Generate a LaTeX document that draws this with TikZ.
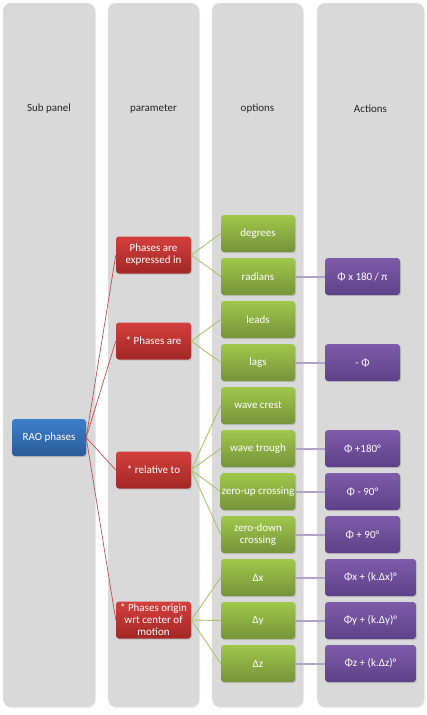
\documentclass[tikz,border=0pt]{standalone}
\usepackage{fontspec}
\setmainfont{Carlito}
\usepackage{xcolor}
\definecolor{panelGray}{HTML}{D9D9D9}
\definecolor{raoTop}{HTML}{3D7FCC}
\definecolor{raoBot}{HTML}{2A5B98}
\definecolor{parTop}{HTML}{D33F3C}
\definecolor{parBot}{HTML}{A22826}
\definecolor{optTop}{HTML}{9FC84A}
\definecolor{optBot}{HTML}{76933A}
\definecolor{actTop}{HTML}{7F5BAA}
\definecolor{actBot}{HTML}{5D4187}
\definecolor{parLine}{HTML}{C0504D}
\definecolor{optLine}{HTML}{A9C46C}
\definecolor{actLine}{HTML}{B3A2C7}
\usepackage{tikz}
\usetikzlibrary{shadows}

\tikzset{
  panel/.style={fill=panelGray, rounded corners=8pt,
    drop shadow={opacity=0.15, shadow xshift=1pt, shadow yshift=-1pt}},
  head/.style={text=black!85, font=\fontsize{11}{13}\selectfont},
  box/.style={rounded corners=3pt, text=white, align=center, inner sep=1pt,
    minimum height=37pt, font=\fontsize{11}{12}\selectfont,
    drop shadow={opacity=0.3, shadow xshift=1pt, shadow yshift=-1.2pt}},
  rao/.style={box, top color=raoTop, bottom color=raoBot, minimum width=74pt},
  par/.style={box, top color=parTop, bottom color=parBot, minimum width=75pt},
  opt/.style={box, top color=optTop, bottom color=optBot, minimum width=74pt},
  act/.style={box, top color=actTop, bottom color=actBot, minimum width=75pt},
  actwide/.style={act, minimum width=91pt},
  parlink/.style={parLine, line width=0.7pt},
  optlink/.style={optLine, line width=0.9pt},
  actlink/.style={actLine, line width=2pt},
}

\begin{document}
\begin{tikzpicture}[x=1pt, y=-1pt]
  \useasboundingbox (0,0) rectangle (426,715);
  % the four panels
  \foreach \x/\w/\title [count=\i] in {3/92/Sub panel, 108/91/parameter, 212/91/options, 317/107/Actions} {
    \fill[panel] (\x,3) rectangle ++(\w,704);
    \node[head] (head\i) at (\x+\w/2,109) {\title};
  }
  % sub panel
  \node[rao] (rao) at (49,437.5) {RAO phases};
  % parameters
  \node[par] (p1) at (153.5,255) {Phases are\\expressed in};
  \node[par] (p2) at (153.5,341) {* Phases are};
  \node[par] (p3) at (153.5,470) {* relative to};
  \node[par] (p4) at (153.5,620) {* Phases origin\\wrt center of\\motion};
  % options
  \foreach \i/\t in {1/degrees, 2/radians, 3/leads, 4/lags, 5/wave crest,
    6/wave trough, 7/zero-up crossing, 8/{zero-down\\crossing},
    9/Δx, 10/Δy, 11/Δz}
    \node[opt] (o\i) at (258,190.5+43*\i) {\t};
  % actions
  \node[act] (a2) at (362.5,276.5) {Φ x 180 / π};
  \node[act] (a4) at (362.5,362.5) {- Φ};
  \node[act] (a6) at (362.5,448.5) {Φ +180°};
  \node[act] (a7) at (362.5,491.5) {Φ - 90°};
  \node[act] (a8) at (362.5,534.5) {Φ + 90°};
  \node[actwide] (a9) at (370.5,577.5) {Φx + (k.Δx)°};
  \node[actwide] (a10) at (370.5,620.5) {Φy + (k.Δy)°};
  \node[actwide] (a11) at (370.5,663.5) {Φz + (k.Δz)°};
  % links
  \foreach \p in {p1,p2,p3,p4}
    \draw[parlink] (rao.east) -- (\p.west);
  \foreach \p/\o in {p1/o1, p1/o2, p2/o3, p2/o4, p3/o5, p3/o6, p3/o7, p3/o8, p4/o9, p4/o10, p4/o11}
    \draw[optlink] (\p.east) -- (\o.west);
  \foreach \o in {2,4,6,7,8,9,10,11}
    \draw[actlink] (o\o.east) -- (a\o.west);
\end{tikzpicture}
\end{document}
